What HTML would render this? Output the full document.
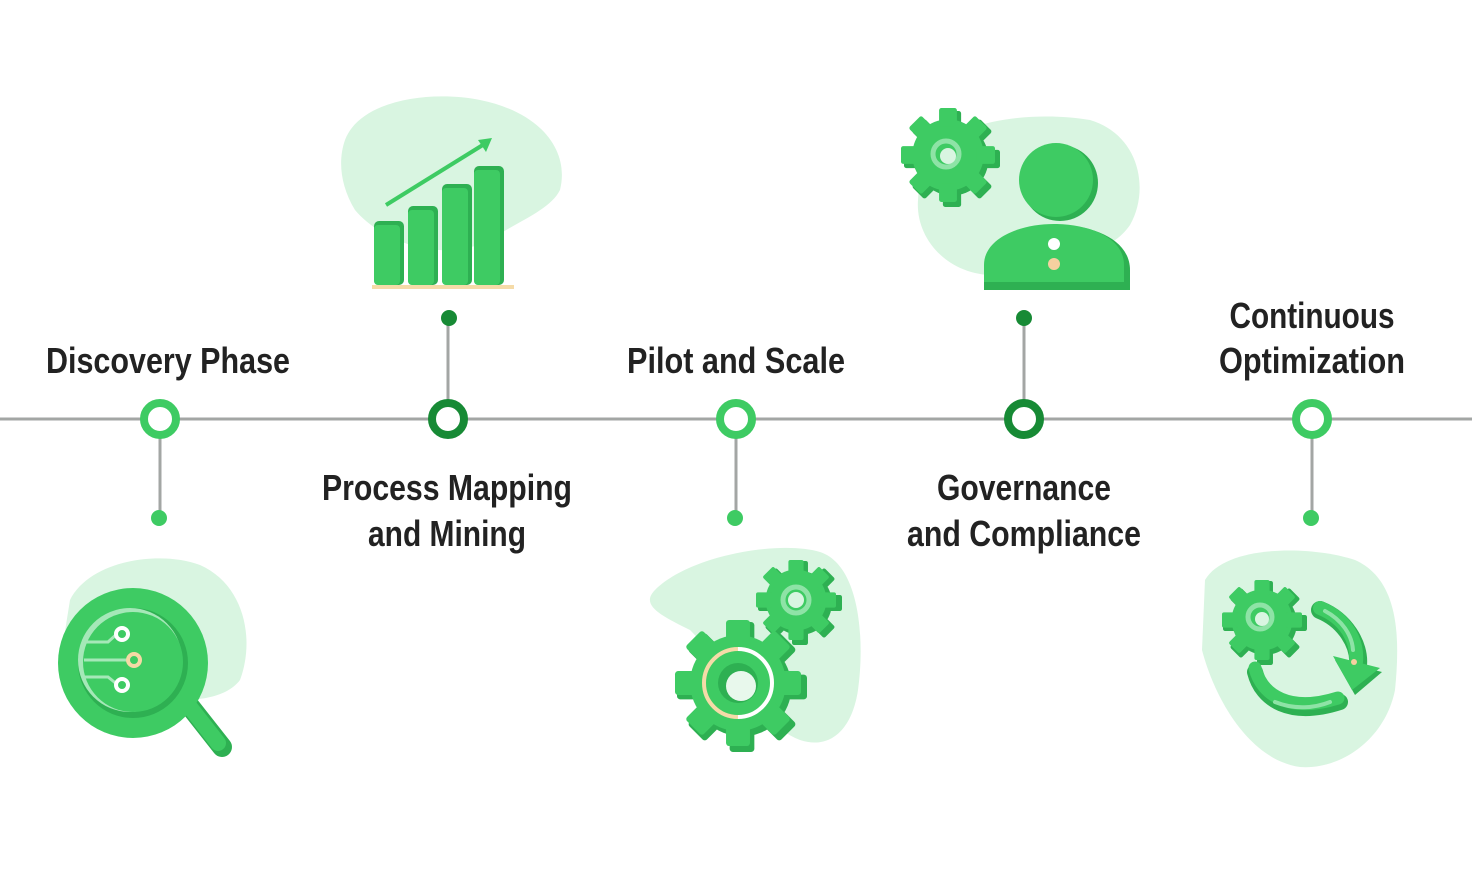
<!DOCTYPE html>
<html><head><meta charset="utf-8"><style>
html,body{margin:0;padding:0;background:#fff;}
svg{display:block}
text{font-family:"Liberation Sans",sans-serif;font-weight:bold;fill:#222;font-size:36px}
</style></head><body>
<svg width="1472" height="896" viewBox="0 0 1472 896" xmlns="http://www.w3.org/2000/svg">
<defs>
<g id="gear">
<circle r="0.76"/>
<rect x="-0.19" y="-1" width="0.38" height="0.4" rx="0.05"/>
<rect x="-0.19" y="-1" width="0.38" height="0.4" rx="0.05" transform="rotate(45)"/>
<rect x="-0.19" y="-1" width="0.38" height="0.4" rx="0.05" transform="rotate(90)"/>
<rect x="-0.19" y="-1" width="0.38" height="0.4" rx="0.05" transform="rotate(135)"/>
<rect x="-0.19" y="-1" width="0.38" height="0.4" rx="0.05" transform="rotate(180)"/>
<rect x="-0.19" y="-1" width="0.38" height="0.4" rx="0.05" transform="rotate(225)"/>
<rect x="-0.19" y="-1" width="0.38" height="0.4" rx="0.05" transform="rotate(270)"/>
<rect x="-0.19" y="-1" width="0.38" height="0.4" rx="0.05" transform="rotate(315)"/>
</g>
</defs>

<!-- timeline -->
<line x1="0" y1="419" x2="1472" y2="419" stroke="#a3a6a4" stroke-width="3"/>
<g stroke="#a3a6a4" stroke-width="3">
<line x1="160" y1="419" x2="160" y2="518"/>
<line x1="736" y1="419" x2="736" y2="518"/>
<line x1="1312" y1="419" x2="1312" y2="518"/>
<line x1="448" y1="419" x2="448" y2="318"/>
<line x1="1024" y1="419" x2="1024" y2="318"/>
</g>
<g fill="#fff" stroke-width="8">
<circle cx="160" cy="419" r="16" stroke="#3ecb63"/>
<circle cx="736" cy="419" r="16" stroke="#3ecb63"/>
<circle cx="1312" cy="419" r="16" stroke="#3ecb63"/>
<circle cx="448" cy="419" r="16" stroke="#178a35"/>
<circle cx="1024" cy="419" r="16" stroke="#178a35"/>
</g>
<g fill="#3ecb63">
<circle cx="159" cy="518" r="8"/><circle cx="735" cy="518" r="8"/><circle cx="1311" cy="518" r="8"/>
</g>
<g fill="#178a35"><circle cx="449" cy="318" r="8"/><circle cx="1024" cy="318" r="8"/></g>

<!-- labels -->
<text x="168" y="373" text-anchor="middle" textLength="244" lengthAdjust="spacingAndGlyphs">Discovery Phase</text>
<text x="736" y="373" text-anchor="middle" textLength="218" lengthAdjust="spacingAndGlyphs">Pilot and Scale</text>
<text x="1312" y="328" text-anchor="middle" textLength="165" lengthAdjust="spacingAndGlyphs">Continuous</text>
<text x="1312" y="373" text-anchor="middle" textLength="186" lengthAdjust="spacingAndGlyphs">Optimization</text>
<text x="447" y="500" text-anchor="middle" textLength="250" lengthAdjust="spacingAndGlyphs">Process Mapping</text>
<text x="447" y="546" text-anchor="middle" textLength="158" lengthAdjust="spacingAndGlyphs">and Mining</text>
<text x="1024" y="500" text-anchor="middle" textLength="174" lengthAdjust="spacingAndGlyphs">Governance</text>
<text x="1024" y="546" text-anchor="middle" textLength="234" lengthAdjust="spacingAndGlyphs">and Compliance</text>

<!-- Discovery icon -->
<path d="M70,600 C90,560 160,550 200,565 C245,585 255,640 240,680 C225,700 190,700 180,700 C130,720 60,700 62,650 Z" fill="#d9f5e1"/>
<line x1="185" y1="700" x2="222" y2="747" stroke="#2eb052" stroke-width="20" stroke-linecap="round"/>
<line x1="182" y1="697" x2="218" y2="743" stroke="#3ecb63" stroke-width="16" stroke-linecap="round"/>
<circle cx="133" cy="663" r="75" fill="#3ecb63"/>
<circle cx="133" cy="663" r="55" fill="#2eb052"/>
<circle cx="130" cy="660" r="52" fill="#a5e8b8"/>
<circle cx="133" cy="662" r="50" fill="#3ecb63"/>
<g stroke="#a5e8b8" stroke-width="3" fill="none">
<path d="M84,642 H108 L118,633"/><path d="M84,660 H128"/><path d="M84,677 H108 L118,685"/>
</g>
<circle cx="122" cy="634" r="6" fill="#3ecb63" stroke="#fff" stroke-width="4"/>
<circle cx="134" cy="660" r="6" fill="#3ecb63" stroke="#f5d9a5" stroke-width="4"/>
<circle cx="122" cy="685" r="6" fill="#3ecb63" stroke="#fff" stroke-width="4"/>

<!-- Process icon -->
<path d="M345,140 C360,100 430,90 480,100 C540,112 570,150 560,190 C550,210 520,220 490,240 C440,265 380,240 355,210 C340,185 338,160 345,140 Z" fill="#d9f5e1"/>
<g fill="#2eb052">
<rect x="374" y="221" width="30" height="64" rx="5"/><rect x="408" y="206" width="30" height="79" rx="5"/>
<rect x="442" y="184" width="30" height="101" rx="5"/><rect x="474" y="166" width="30" height="119" rx="5"/>
</g>
<g fill="#3ecb63">
<rect x="374" y="225" width="26" height="60" rx="4"/><rect x="408" y="210" width="26" height="75" rx="4"/>
<rect x="442" y="188" width="26" height="97" rx="4"/><rect x="474" y="170" width="26" height="115" rx="4"/>
</g>
<rect x="372" y="285" width="142" height="4" fill="#f5dba8"/>
<line x1="386" y1="205" x2="486" y2="143" stroke="#3ecb63" stroke-width="4"/>
<path d="M492,138 L478,140 L486,152 Z" fill="#3ecb63"/>

<!-- Pilot icon -->
<path d="M655,590 C690,555 780,540 820,552 C860,565 865,640 858,690 C852,730 830,750 800,740 C760,725 720,660 690,630 C660,615 640,605 655,590 Z" fill="#d9f5e1"/>
<use href="#gear" transform="translate(800,603) scale(42)" fill="#2eb052"/>
<use href="#gear" transform="translate(796,600) scale(40)" fill="#3ecb63"/>
<circle cx="796" cy="600" r="13" fill="none" stroke="#8ee3a6" stroke-width="5"/>
<circle cx="796" cy="600" r="8" fill="#d9f5e1"/>
<use href="#gear" transform="translate(742,687) scale(65)" fill="#2eb052"/>
<use href="#gear" transform="translate(738,683) scale(63)" fill="#3ecb63"/>
<path d="M738,649 A34,34 0 0 0 738,717" fill="none" stroke="#f5dba8" stroke-width="4"/>
<path d="M738,649 A34,34 0 0 1 738,717" fill="none" stroke="#fff" stroke-width="4"/>
<circle cx="738" cy="683" r="20" fill="#2eb052"/>
<circle cx="741" cy="686" r="15" fill="#e8f8ec"/>

<!-- Governance icon -->
<path d="M920,170 C940,120 1030,110 1090,120 C1140,135 1150,190 1130,225 C1110,255 1050,270 1000,275 C950,278 915,240 918,200 Z" fill="#d9f5e1"/>
<use href="#gear" transform="translate(952,159) scale(48)" fill="#2eb052"/>
<use href="#gear" transform="translate(948,155) scale(47)" fill="#3ecb63"/>
<circle cx="946" cy="154" r="13" fill="none" stroke="#8ee3a6" stroke-width="5"/>
<circle cx="948" cy="156" r="8" fill="#d9f5e1"/>
<circle cx="1060" cy="183" r="38" fill="#2eb052"/>
<circle cx="1056" cy="180" r="37" fill="#3ecb63"/>
<path d="M984,270 C984,240 1020,225 1057,225 C1094,225 1130,240 1130,270 L1130,290 L984,290 Z" fill="#2eb052"/>
<path d="M984,265 C984,238 1020,224 1054,224 C1090,224 1124,238 1124,265 L1124,282 L984,282 Z" fill="#3ecb63"/>
<circle cx="1054" cy="244" r="6" fill="#fff"/><circle cx="1054" cy="264" r="6" fill="#f5d0a0"/>

<!-- Optimization icon -->
<path d="M1205,580 C1225,545 1310,545 1355,560 C1400,580 1400,640 1395,690 C1385,740 1340,770 1300,767 C1250,760 1215,700 1202,650 Z" fill="#d9f5e1"/>
<use href="#gear" transform="translate(1265,623) scale(42)" fill="#2eb052"/>
<use href="#gear" transform="translate(1262,620) scale(40)" fill="#3ecb63"/>
<circle cx="1260" cy="617" r="12" fill="none" stroke="#8ee3a6" stroke-width="5"/>
<circle cx="1262" cy="619" r="7" fill="#d9f5e1"/>
<path d="M1320,610 C1345,620 1360,645 1358,665" fill="none" stroke="#2eb052" stroke-width="18" stroke-linecap="round"/>
<path d="M1320,608 C1345,618 1358,640 1356,662" fill="none" stroke="#3ecb63" stroke-width="14" stroke-linecap="round"/>
<path d="M1325,611 C1342,620 1352,635 1353,650" fill="none" stroke="#8ee3a6" stroke-width="4" stroke-linecap="round"/>
<path d="M1335,660 L1382,672 L1355,695 Z" fill="#2eb052"/>
<path d="M1333,656 L1380,668 L1352,690 Z" fill="#3ecb63"/>
<circle cx="1354" cy="662" r="3" fill="#f5d0a0"/>
<path d="M1255,672 C1262,700 1290,718 1340,702" fill="none" stroke="#2eb052" stroke-width="16" stroke-linecap="round"/>
<path d="M1255,668 C1262,696 1290,713 1338,698" fill="none" stroke="#3ecb63" stroke-width="13" stroke-linecap="round"/>
<path d="M1275,702 C1295,710 1315,708 1330,702" fill="none" stroke="#8ee3a6" stroke-width="4" stroke-linecap="round"/>
</svg>
</body></html>
